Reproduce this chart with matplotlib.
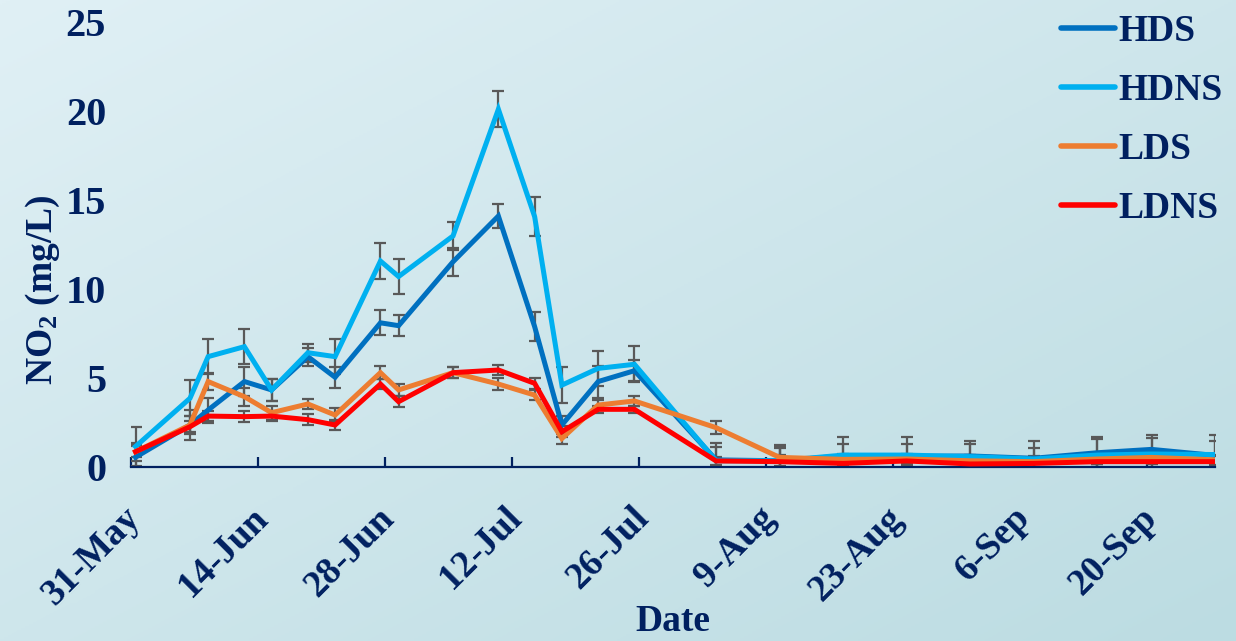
import numpy as np
import pandas as pd
import matplotlib
matplotlib.use("Agg")
import matplotlib.pyplot as plt
import matplotlib.dates as mdates
from matplotlib.colors import LinearSegmentedColormap
from matplotlib.transforms import ScaledTranslation

plt.rcParams['font.family'] = ['Liberation Serif', 'DejaVu Serif']
plt.rcParams['font.weight'] = 'bold'
plt.rcParams['axes.labelweight'] = 'bold'
plt.rcParams['mathtext.fontset'] = 'custom'
plt.rcParams['mathtext.rm'] = 'Liberation Serif:bold'
plt.rcParams['mathtext.it'] = 'Liberation Serif:bold'
plt.rcParams['mathtext.bf'] = 'Liberation Serif:bold'

NAVY = '#002060'

# sampling dates (samples taken around midday)
sample_dates = ['2021-05-31', '2021-06-06', '2021-06-08', '2021-06-12', '2021-06-15',
                '2021-06-19', '2021-06-22', '2021-06-27', '2021-06-29', '2021-07-05',
                '2021-07-10', '2021-07-14', '2021-07-17', '2021-07-21', '2021-07-25',
                '2021-08-03', '2021-08-10', '2021-08-17', '2021-08-24', '2021-08-31',
                '2021-09-07', '2021-09-14', '2021-09-20', '2021-09-27']

hds = [0.55, 2.36, 3.2, 4.8, 4.33, 6.2, 5.04, 8.1, 7.94, 11.53, 14.1, 7.88,
       2.36, 4.8, 5.41, 0.4, 0.35, 0.62, 0.6, 0.62, 0.49, 0.8, 0.99, 0.65]
hdns = [1.15, 3.86, 6.2, 6.76, 4.33, 6.42, 6.2, 11.57, 10.7, 12.98, 20.1, 14.06,
        4.6, 5.54, 5.77, 0.35, 0.35, 0.67, 0.67, 0.58, 0.45, 0.67, 0.73, 0.7]
lds = [0.86, 2.36, 4.8, 3.95, 3.05, 3.54, 2.92, 5.3, 4.33, 5.3, 4.66, 4.04,
       1.6, 3.48, 3.71, 2.21, 0.54, 0.43, 0.45, 0.35, 0.3, 0.45, 0.54, 0.4]
ldns = [0.86, 2.26, 2.86, 2.83, 2.86, 2.66, 2.36, 4.66, 3.67, 5.3, 5.45, 4.7,
        1.98, 3.24, 3.24, 0.34, 0.3, 0.2, 0.34, 0.17, 0.2, 0.3, 0.3, 0.3]

# standard deviations
hds_err = [0.7, 0.85, 0.7, 0.8, 0.6, 0.5, 0.6, 0.7, 0.6, 0.8, 0.7, 0.8,
           0.5, 0.9, 0.6, 0.75, 0.8, 0.7, 0.7, 0.7, 0.6, 0.8, 0.8, 0.8]
hdns_err = [1.1, 1.0, 1.0, 1.0, 0.6, 0.5, 1.0, 1.0, 1.0, 0.8, 1.0, 1.1,
            1.0, 1.0, 1.0, 1.0, 0.9, 1.0, 1.0, 0.9, 1.0, 1.0, 0.9, 1.1]
lds_err = [0.5, 0.5, 0.5, 0.5, 0.4, 0.3, 0.4, 0.35, 0.35, 0.3, 0.35, 0.3,
           0.3, 0.3, 0.3, 0.35, 0.5, 0.3, 0.3, 0.3, 0.3, 0.3, 0.3, 0.3]
ldns_err = [0.3, 0.3, 0.3, 0.3, 0.3, 0.3, 0.3, 0.3, 0.3, 0.3, 0.3, 0.3,
            0.3, 0.2, 0.2, 0.2, 0.4, 0.2, 0.3, 0.3, 0.3, 0.3, 0.3, 0.3]

series = [('HDS', hds, hds_err, '#0070C0'),
          ('HDNS', hdns, hdns_err, '#00B0F0'),
          ('LDS', lds, lds_err, '#ED7D31'),
          ('LDNS', ldns, ldns_err, '#FF0000')]

x = pd.to_datetime(sample_dates) + pd.Timedelta(hours=12)

fig = plt.figure(figsize=(12.36, 6.41), dpi=100)

# diagonal background gradient
bg = fig.add_axes([0, 0, 1, 1], zorder=-10)
gx, gy = np.meshgrid(np.linspace(0, 1, 300), np.linspace(0, 1, 300))
grad = (gx + gy) / 2
cmap = LinearSegmentedColormap.from_list('bg', ['#E0F0F5', '#BCDCE2'])
bg.imshow(grad, cmap=cmap, aspect='auto', extent=[0, 1, 0, 1], origin='upper')
bg.axis('off')

ax = fig.add_axes([131 / 1236, 1 - 467 / 641, (1215 - 131) / 1236, (467 - 22) / 641])
ax.patch.set_alpha(0)

for name, vals, err, color in series:
    ax.errorbar(x, vals, yerr=err, fmt='none', ecolor='#595959', elinewidth=1.6,
                capsize=4.5, capthick=1.6, zorder=2)
for i, (name, vals, err, color) in enumerate(series):
    ax.plot(x, vals, color=color, lw=3.6, label=name, zorder=3 + i,
            solid_joinstyle='miter')

ax.set_ylim(0, 25)
ax.set_yticks(range(0, 26, 5))
ax.set_xlim(pd.Timestamp('2021-05-31'), pd.Timestamp('2021-09-27 12:00'))
ticks = pd.date_range('2021-05-31', '2021-09-27', freq='14D')
ax.set_xticks(ticks)
ax.xaxis.set_major_formatter(mdates.DateFormatter('%-d-%b'))

for s in ['top', 'right', 'left']:
    ax.spines[s].set_visible(False)
ax.spines['bottom'].set_color(NAVY)
ax.spines['bottom'].set_linewidth(1.6)

ax.tick_params(axis='x', direction='in', length=7, width=1.6, color=NAVY,
               labelsize=27, labelcolor=NAVY, pad=24)
ax.tick_params(axis='y', length=0, labelsize=29, labelcolor=NAVY, pad=18)
for lab in ax.get_xticklabels():
    lab.set_rotation(45)
    lab.set_ha('right')
    lab.set_transform(lab.get_transform() + ScaledTranslation(12 / 72, 0, fig.dpi_scale_trans))

ax.set_ylabel('NO$_2$ (mg/L)', fontsize=27, color=NAVY)
ax.yaxis.set_label_coords(-0.064, 0.398)
ax.set_xlabel('Date', fontsize=27, color=NAVY, labelpad=-6)

leg = ax.legend(loc='upper right', bbox_to_anchor=(1256 / 1236, 1 + 20 / 641),
                bbox_transform=fig.transFigure, frameon=False, fontsize=27,
                handlelength=1.45, handletextpad=0.08, labelspacing=0.64)
for t in leg.get_texts():
    t.set_color(NAVY)
for h in leg.get_lines():
    h.set_linewidth(4)
    h.set_solid_capstyle('round')

fig.savefig('out.png', dpi=100)
